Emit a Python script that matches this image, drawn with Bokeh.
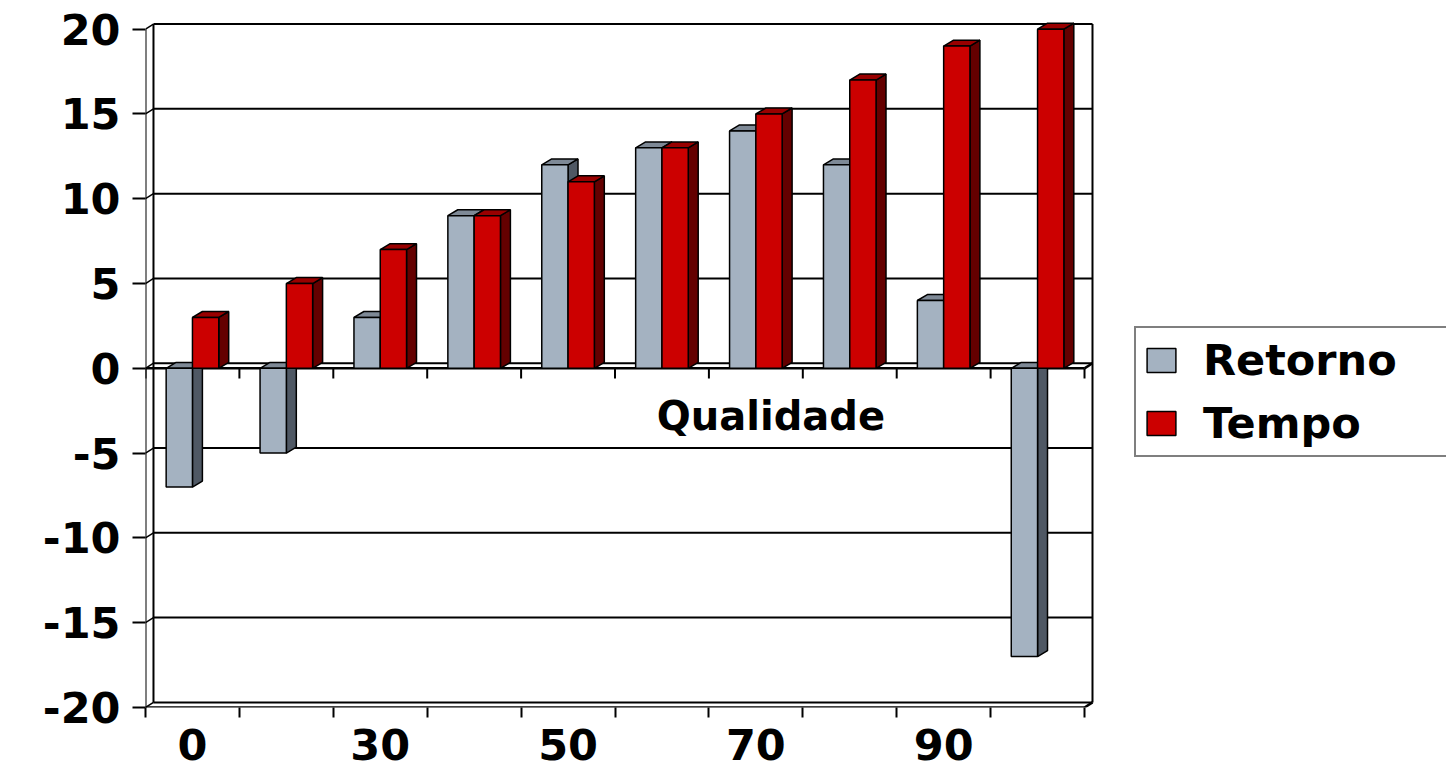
import numpy as np
from bokeh.plotting import figure
from bokeh.models import Range1d, FixedTicker, Label, Legend, LegendItem
from bokeh.embed import file_html
from bokeh.resources import INLINE

# ---------------- data ----------------
categories = ["0", "20", "30", "40", "50", "60", "70", "80", "90", "100"]
retorno = [-7, -5, 3, 9, 12, 13, 14, 12, 4, -17]
tempo = [3, 5, 7, 9, 11, 13, 15, 17, 19, 20]
y_ticks = [-20, -15, -10, -5, 0, 5, 10, 15, 20]
y_tick_labels = ["-20", "-15", "-10", "-5", "0", "5", "10", "15", "20"]
series_names = ["Retorno", "Tempo"]
axis_title = "Qualidade"

# ---------------- styles ----------------
FONT = "DejaVu Sans"
RET_FRONT, RET_SIDE, RET_TOP = "#A4B2C1", "#4F5864", "#7E8996"
TEM_FRONT, TEM_SIDE, TEM_TOP = "#CC0000", "#640000", "#990000"

n = len(categories)
xc = np.arange(1, n + 1, dtype=float)
W = 0.28        # bar width (category units)
DX, DY = 0.106, 0.35     # bar depth offset
WX, WY = 0.085, 0.30     # back wall offset
X0, X1 = 0.5, n + 0.5
YMIN, YMAX = y_ticks[0], y_ticks[-1]

p = figure(width=1446, height=770,
           x_range=Range1d(0.5, 14.355), y_range=Range1d(YMIN, 20.51),
           output_backend="svg", toolbar_location=None,
           min_border_left=145, min_border_right=0,
           min_border_top=20, min_border_bottom=63)
p.outline_line_color = None
p.xgrid.visible = False
p.ygrid.visible = False
p.background_fill_color = "white"
p.border_fill_color = "white"

# ---------------- walls / grid ----------------
gy = np.array(y_ticks, dtype=float)
p.segment(x0=X0 + WX, y0=gy + WY, x1=X1 + WX, y1=gy + WY,
          line_color="black", line_width=2)
p.segment(x0=np.full(len(gy), X0), y0=gy, x1=np.full(len(gy), X0 + WX), y1=gy + WY,
          line_color="black", line_width=1.5)
p.segment(x0=[X0 + WX, X1 + WX], y0=[YMIN + WY] * 2, x1=[X0 + WX, X1 + WX], y1=[YMAX + WY] * 2,
          line_color="black", line_width=2)
p.segment(x0=[X0, X1], y0=[YMIN, YMIN], x1=[X1, X1 + WX], y1=[YMIN, YMIN + WY],
          line_color="black", line_width=2.5)
p.segment(x0=[X0], y0=[YMIN - 0.55], x1=[X0], y1=[YMAX], line_color="black", line_width=2)
p.segment(x0=[X0, X1], y0=[0, 0], x1=[X1, X1 + WX], y1=[0, WY], line_color="black", line_width=2.5)
bx = np.arange(n + 1) + 0.5
p.segment(x0=bx, y0=np.zeros(n + 1), x1=bx, y1=np.full(n + 1, -0.6),
          line_color="black", line_width=2)


def bars(vals, left, front, side, top):
    vals = np.array(vals, dtype=float)
    b = np.minimum(vals, 0)
    t = np.maximum(vals, 0)
    r = left + W
    sx = [[ri, ri + DX, ri + DX, ri] for ri in r]
    sy = [[bi, bi + DY, ti + DY, ti] for bi, ti in zip(b, t)]
    p.patches(sx, sy, fill_color=side, line_color="black", line_width=1.5)
    tx = [[li, li + DX, ri + DX, ri] for li, ri in zip(left, r)]
    ty = [[ti, ti + DY, ti + DY, ti] for ti in t]
    p.patches(tx, ty, fill_color=top, line_color="black", line_width=1.5)
    return p.quad(left=left, right=r, bottom=b, top=t,
                  fill_color=front, line_color="black", line_width=1.5)


r_ret = bars(retorno, xc - W, RET_FRONT, RET_SIDE, RET_TOP)
r_tem = bars(tempo, xc, TEM_FRONT, TEM_SIDE, TEM_TOP)

# ---------------- axes ----------------
xa = p.xaxis[0]
xa.ticker = FixedTicker(ticks=list(xc[::2]), minor_ticks=list(bx))
xa.major_label_overrides = {float(x): lab for x, lab in zip(xc[::2], categories[::2])}
xa.axis_line_color = None
xa.major_tick_out = 0
xa.major_tick_in = 0
xa.minor_tick_out = 10
xa.minor_tick_in = 0
xa.minor_tick_line_color = "black"
xa.minor_tick_line_width = 2
xa.major_label_text_font = FONT
xa.major_label_text_font_size = "43px"
xa.major_label_text_font_style = "bold"
xa.major_label_text_color = "black"
xa.major_label_standoff = 11

ya = p.yaxis[0]
ya.ticker = FixedTicker(ticks=y_ticks, minor_ticks=[])
ya.major_label_overrides = {v: s for v, s in zip(y_ticks, y_tick_labels)}
ya.axis_line_color = None
ya.major_tick_out = 13
ya.major_tick_in = 0
ya.major_tick_line_width = 2
ya.major_tick_line_color = "black"
ya.minor_tick_out = 0
ya.minor_tick_in = 0
ya.major_label_text_font = FONT
ya.major_label_text_font_size = "43px"
ya.major_label_text_font_style = "bold"
ya.major_label_text_color = "black"
ya.major_label_standoff = 12

p.add_layout(Label(x=7.16, y=-2.8, text=axis_title, text_align="center",
                   text_baseline="alphabetic", text_font=FONT,
                   text_font_size="40px", text_font_style="bold", text_color="black"))

# ---------------- legend ----------------
legend = Legend(items=[LegendItem(label=series_names[0], renderers=[r_ret]),
                       LegendItem(label=series_names[1], renderers=[r_tem])],
                location=(989, 250), orientation="vertical",
                label_text_font=FONT, label_text_font_size="43px",
                label_text_font_style="bold", label_text_color="black",
                glyph_width=36, glyph_height=30, label_standoff=24,
                label_width=340,
                spacing=13, padding=7, margin=0,
                border_line_color="black", border_line_width=2,
                background_fill_color="white", background_fill_alpha=1.0)
p.add_layout(legend)

open("out.html", "w").write(file_html(p, INLINE))
